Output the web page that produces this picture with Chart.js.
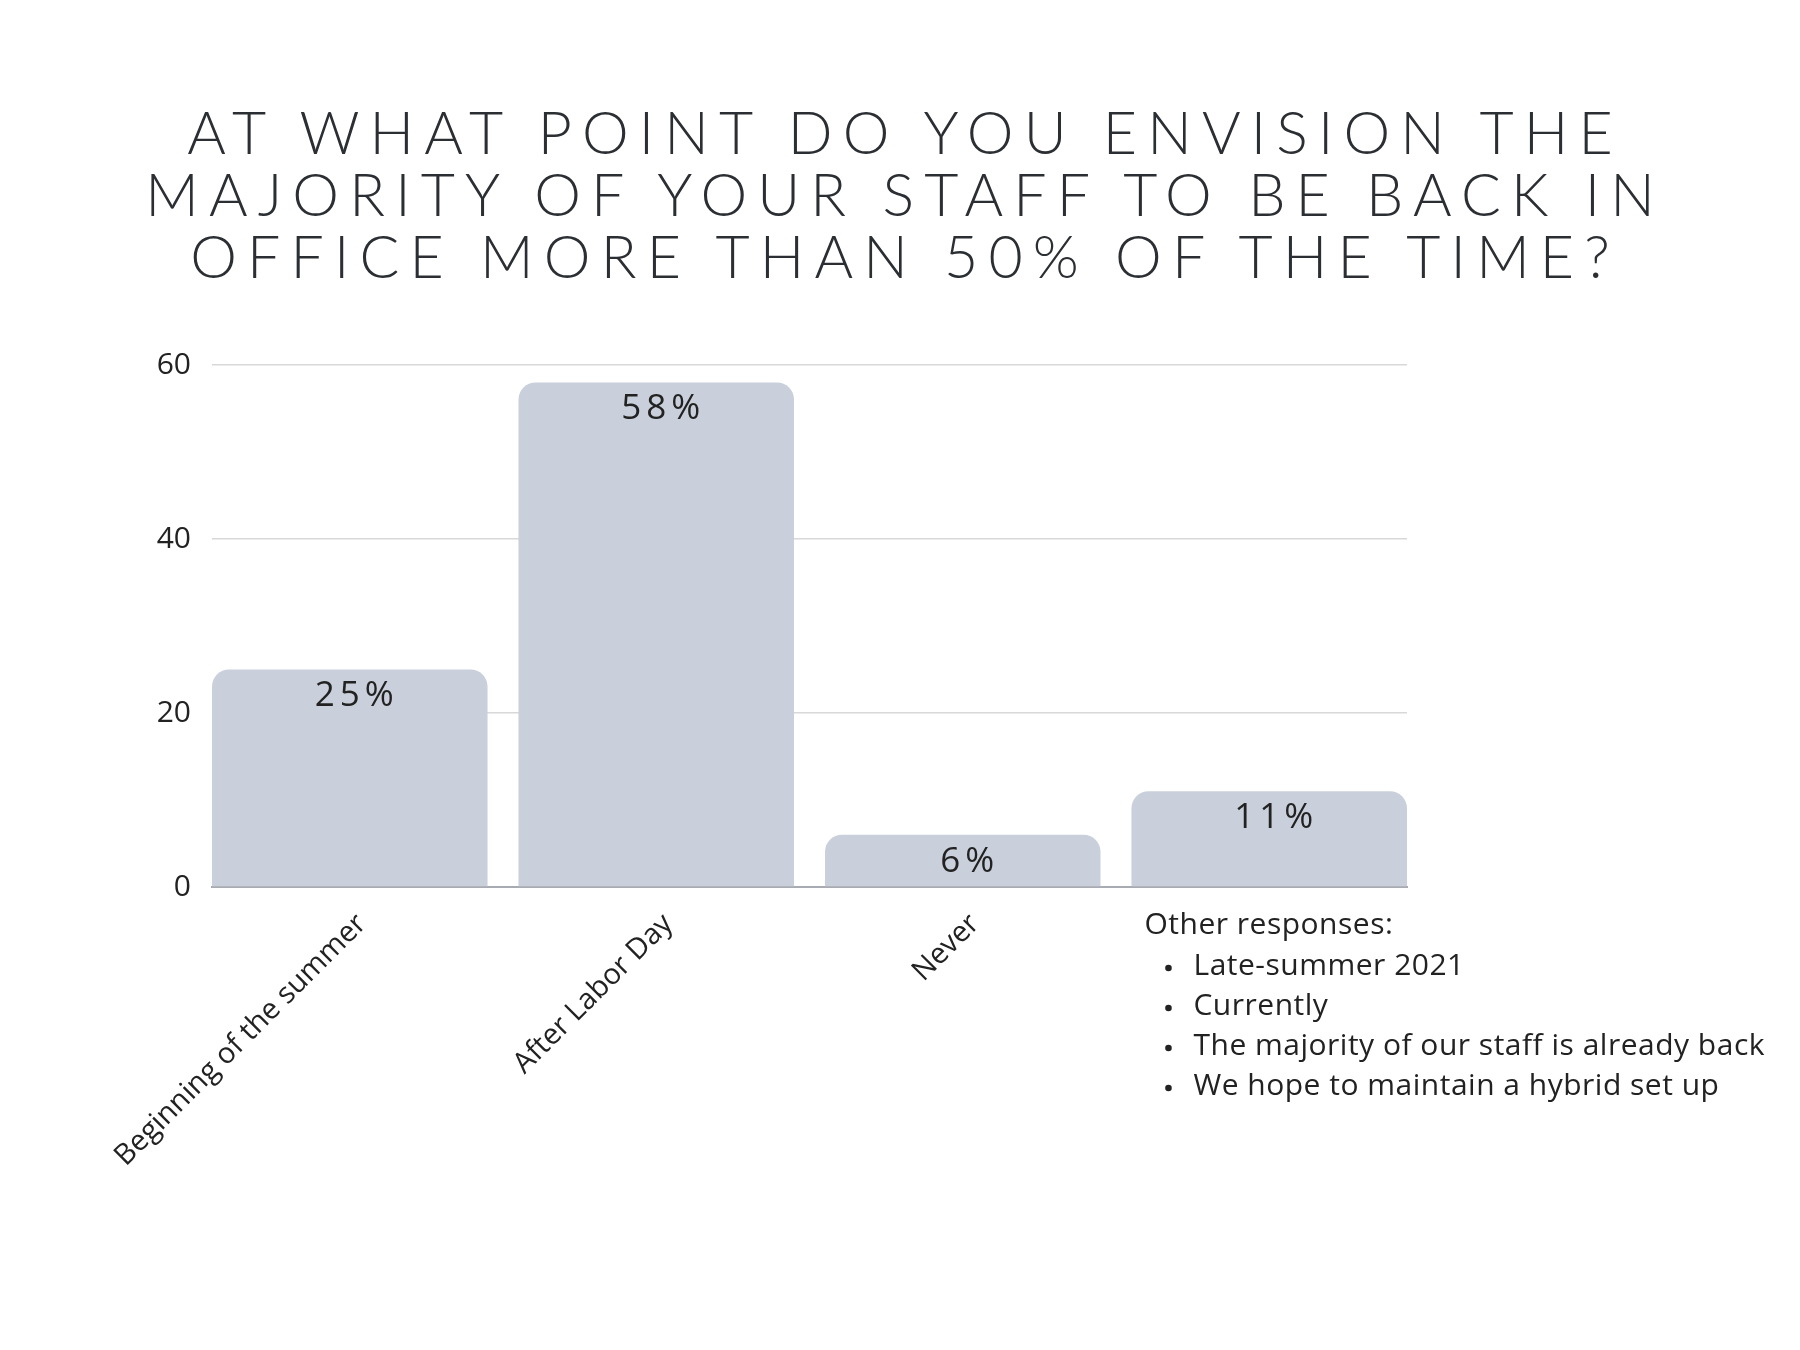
<!DOCTYPE html>
<html>
<head>
<meta charset="utf-8">
<script src="https://cdn.jsdelivr.net/npm/chart.js@4.4.1/dist/chart.umd.min.js"></script>
<style>
  html, body { margin: 0; padding: 0; background: #ffffff; }
  #wrap { position: relative; width: 1800px; height: 1350px; overflow: hidden; }
  #title {
    position: absolute; left: 0; top: 101px; width: 1800px;
    text-align: center; font-family: Lato, "Open Sans", sans-serif; font-weight: 300;
    font-size: 59px; line-height: 62px; letter-spacing: 0.172em; color: #2b2f33;
    margin: 0; padding-left: 0.172em; box-sizing: border-box;
  }
  canvas { position: absolute; left: 0; top: 0; }
</style>
</head>
<body>
<div id="wrap">
  <canvas id="c" width="1800" height="1350"></canvas>
  <h1 id="title">AT WHAT POINT DO YOU ENVISION THE<br>MAJORITY OF YOUR STAFF TO BE BACK IN<br>OFFICE MORE THAN 50% OF THE TIME?</h1>
</div>
<script>
// ---- data ----
const categories = ["Beginning of the summer", "After Labor Day", "Never", "Other"];
const shownTickLabels = ["Beginning of the summer", "After Labor Day", "Never", ""];
const percentValues = [25, 58, 6, 11];
const valueLabels = ["25%", "58%", "6%", "11%"];
const yTicks = [0, 20, 40, 60];
const otherResponsesTitle = "Other responses:";
const otherResponses = [
  "Late-summer 2021",
  "Currently",
  "The majority of our staff is already back",
  "We hope to maintain a hybrid set up"
];

const FONT = '"Open Sans", Lato, sans-serif';
const BAR_FRACTION = 0.899;   // bar width relative to category pitch

const valueLabelPlugin = {
  id: 'valueLabels',
  afterDatasetsDraw(chart) {
    const ctx = chart.ctx;
    const meta = chart.getDatasetMeta(0);
    ctx.save();
    ctx.font = '400 35px ' + FONT;
    ctx.fillStyle = '#222222';
    ctx.textAlign = 'center';
    ctx.textBaseline = 'middle';
    try { ctx.letterSpacing = '5px'; } catch (e) {}
    meta.data.forEach((bar, i) => {
      ctx.fillText(valueLabels[i], bar.x + 7, bar.y + 27);
    });
    ctx.restore();
  }
};

const notesPlugin = {
  id: 'otherNotes',
  afterDraw(chart) {
    const ctx = chart.ctx;
    const xs = chart.scales.x;
    const meta = chart.getDatasetMeta(0);
    const bar = meta.data[3];
    const left = bar.x - bar.width / 2 + 13;
    const top = xs.top + 38;
    ctx.save();
    ctx.font = '400 30px ' + FONT;
    ctx.fillStyle = '#222222';
    ctx.textAlign = 'left';
    ctx.textBaseline = 'middle';
    try { ctx.letterSpacing = '0.5px'; } catch (e) {}
    ctx.fillText(otherResponsesTitle, left, top);
    otherResponses.forEach((t, i) => {
      const y = top + 40 * (i + 1) + 1;
      ctx.beginPath();
      ctx.arc(left + 24, y + 2, 3.3, 0, Math.PI * 2);
      ctx.fill();
      ctx.fillText(t, left + 49, y);
    });
    ctx.restore();
  }
};

new Chart(document.getElementById('c'), {
  type: 'bar',
  data: {
    datasets: [{
      data: percentValues.map((v, i) => ({ x: i, y: v })),
      backgroundColor: '#c9d0db',
      borderWidth: 0,
      borderRadius: { topLeft: 17, topRight: 17, bottomLeft: 0, bottomRight: 0 },
      borderSkipped: 'bottom',
      barPercentage: BAR_FRACTION,
      categoryPercentage: 1.0
    }]
  },
  options: {
    responsive: false,
    animation: false,
    devicePixelRatio: 1,
    layout: { padding: { top: 365, right: 393, bottom: 0, left: 0 } },
    plugins: {
      legend: { display: false },
      title: { display: false },
      tooltip: { enabled: false }
    },
    scales: {
      x: {
        type: 'linear',
        offset: false,
        min: -BAR_FRACTION / 2,
        max: categories.length - 1 + BAR_FRACTION / 2,
        afterBuildTicks: (s) => { s.ticks = categories.map((c, i) => ({ value: i })); },
        grid: { display: false, drawTicks: false, offset: false },
        border: { display: true, color: '#a8abb1', width: 2 },
        ticks: {
          autoSkip: false,
          maxRotation: 45,
          minRotation: 45,
          padding: 20,
          labelOffset: 12,
          color: '#222222',
          font: { family: FONT, size: 29 },
          callback: (v) => shownTickLabels[Math.round(v)]
        },
        afterFit: (s) => { s.height = 463; }
      },
      y: {
        min: 0,
        max: 60,
        afterBuildTicks: (s) => { s.ticks = yTicks.map(v => ({ value: v })); },
        grid: { color: '#d8d8d8', lineWidth: 1.5, drawTicks: false },
        border: { display: false },
        ticks: {
          padding: 21,
          color: '#222222',
          font: { family: FONT, size: 30 }
        },
        afterFit: (s) => { s.width = 212; }
      }
    }
  },
  plugins: [valueLabelPlugin, notesPlugin]
});
</script>
</body>
</html>
